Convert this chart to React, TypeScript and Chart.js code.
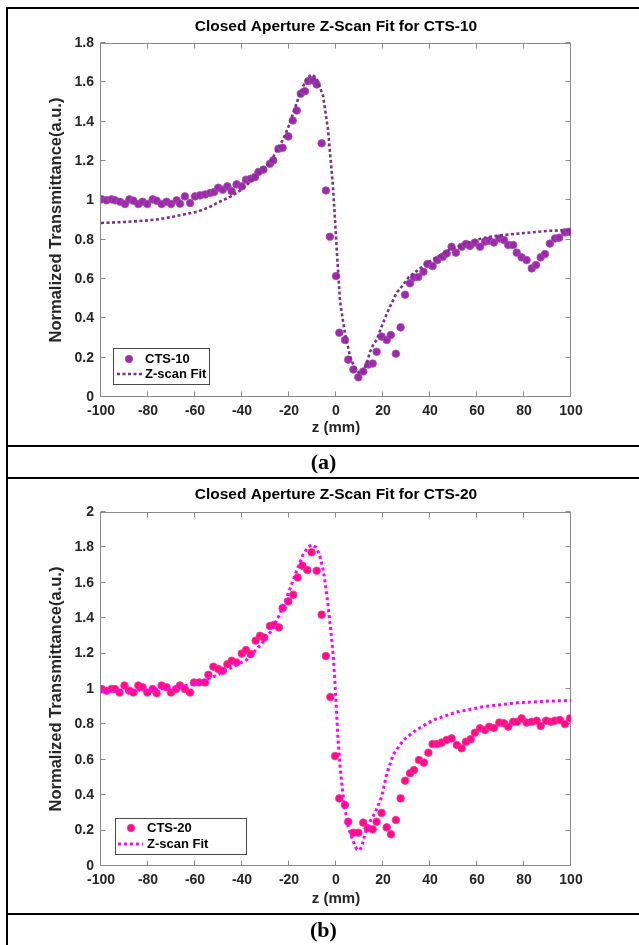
import React, { useEffect, useRef } from 'react';
import { Chart, registerables } from 'chart.js';

Chart.register(...registerables);

// ---------------- Data: panel (a) CTS-10 ----------------
const zA = [
  -99.7, -97.6, -95.5, -94.0, -91.9, -89.8, -87.9, -86.2, -84.1, -82.3,
  -80.3, -78.0, -76.3, -74.2, -72.1, -70.2, -67.8, -66.4, -64.3, -62.1,
  -60.0, -57.9, -55.7, -53.6, -51.9, -50.1, -48.2, -46.2, -44.4, -42.3,
  -40.1, -38.3, -36.3, -34.5, -33.0, -30.9, -28.1, -26.7, -24.5, -22.7,
  -20.3, -18.4, -16.7, -15.0, -13.2, -11.8, -9.9, -8.2, -6.1, -4.3,
  -2.6, 0.0, 1.4, 3.8, 5.2, 7.4, 9.5, 11.6, 13.8, 15.6,
  17.3, 19.4, 21.6, 23.3, 25.5, 27.5, 29.4, 31.5, 33.2, 35.0,
  37.2, 38.9, 41.1, 43.1, 45.4, 47.1, 49.2, 51.0, 53.5, 55.3,
  57.0, 59.1, 61.3, 63.4, 65.2, 67.2, 69.5, 71.5, 73.3, 75.4,
  76.9, 79.0, 81.1, 83.3, 85.1, 87.1, 88.9, 91.0, 93.2, 95.0,
  97.4, 99.3,
];
const tA = [
  1.005, 1.0, 1.005, 1.0, 0.993, 0.981, 1.005, 0.998, 0.981, 0.993,
  0.981, 1.005, 0.998, 0.981, 0.993, 0.981, 1.0, 0.983, 1.02, 0.986,
  1.02, 1.025, 1.03, 1.037, 1.042, 1.064, 1.054, 1.071, 1.047, 1.081,
  1.071, 1.105, 1.11, 1.118, 1.144, 1.156, 1.186, 1.203, 1.262, 1.267,
  1.325, 1.406, 1.457, 1.542, 1.555, 1.606, 1.61, 1.589, 1.29, 1.05,
  0.815, 0.615, 0.327, 0.29, 0.19, 0.14, 0.1, 0.13, 0.165, 0.17,
  0.23, 0.307, 0.29, 0.315, 0.22, 0.354, 0.52, 0.578, 0.608, 0.61,
  0.637, 0.676, 0.666, 0.696, 0.713, 0.73, 0.764, 0.734, 0.764, 0.778,
  0.768, 0.785, 0.764, 0.79, 0.795, 0.785, 0.806, 0.798, 0.773, 0.773,
  0.734, 0.71, 0.696, 0.654, 0.671, 0.71, 0.727, 0.78, 0.806, 0.81,
  0.837, 0.84,
];
const fitZA = [
  -100, -90, -80, -76, -70, -64, -59, -54, -50, -45,
  -40, -36, -32, -28, -25, -22.5, -20, -18.3, -16, -14,
  -12, -10.3, -8.5, -7, -5.5, -4.5, -3.4, -2.3, -1.3, -0.4,
  0.3, 1, 1.7, 2.8, 3.8, 5, 6, 7.5, 8.8, 10,
  11.5, 13, 14.5, 16, 17.3, 18.5, 20, 21.5, 23, 25.8,
  28.6, 31, 34.3, 37.5, 41.3, 45, 48.5, 52, 55.6, 60,
  65.5, 70, 76.9, 84, 91, 100,
];
const fitTA = [
  0.885, 0.89, 0.898, 0.903, 0.915, 0.93, 0.942, 0.965, 0.99, 1.018,
  1.055, 1.1, 1.15, 1.19, 1.26, 1.31, 1.38, 1.44, 1.52, 1.58,
  1.625, 1.64, 1.625, 1.58, 1.53, 1.45, 1.36, 1.21, 1.07, 0.9,
  0.75, 0.62, 0.49, 0.4, 0.325, 0.26, 0.205, 0.16, 0.137, 0.12,
  0.13, 0.17, 0.23, 0.27, 0.29, 0.33, 0.375, 0.42, 0.46, 0.53,
  0.57, 0.61, 0.64, 0.67, 0.7, 0.725, 0.75, 0.765, 0.78, 0.8,
  0.815, 0.822, 0.83, 0.838, 0.845, 0.85,
];

// ---------------- Data: panel (b) CTS-20 ----------------
const zB = [
  -99.7, -97.6, -95.5, -94.0, -92.1, -90.0, -87.9, -86.2, -84.1, -82.3,
  -80.3, -78.0, -76.3, -74.2, -72.1, -70.2, -68.0, -66.4, -64.3, -62.1,
  -60.4, -58.2, -55.7, -54.3, -52.2, -50.1, -48.2, -46.2, -44.4, -42.3,
  -40.1, -38.3, -36.3, -34.2, -32.3, -30.6, -28.1, -26.4, -24.3, -22.7,
  -20.3, -18.2, -16.3, -14.3, -12.2, -10.4, -8.2, -6.1, -4.3, -2.4,
  -0.4, 1.4, 3.8, 5.2, 7.4, 9.5, 11.6, 13.5, 15.6, 17.3,
  19.4, 21.6, 23.4, 25.5, 27.5, 29.4, 31.5, 33.2, 35.3, 37.4,
  39.3, 41.1, 43.1, 45.0, 47.1, 49.2, 51.4, 53.5, 55.3, 57.3,
  59.1, 61.3, 63.4, 65.2, 67.2, 69.5, 71.5, 73.3, 75.4, 77.1,
  79.0, 81.1, 83.3, 85.4, 87.1, 89.4, 91.4, 93.2, 95.3, 97.4,
  99.6,
];
const tB = [
  1.0, 0.99, 1.0, 1.0, 0.98, 1.02, 0.99, 0.98, 1.02, 1.01,
  0.98, 1.0, 0.976, 1.02, 1.01, 0.98, 1.0, 1.02, 1.0, 0.98,
  1.037, 1.037, 1.037, 1.08, 1.126, 1.113, 1.103, 1.14, 1.16, 1.15,
  1.2, 1.22, 1.197, 1.273, 1.3, 1.29, 1.356, 1.362, 1.348, 1.457,
  1.495, 1.532, 1.63, 1.697, 1.672, 1.772, 1.668, 1.42, 1.186, 0.955,
  0.621, 0.382, 0.345, 0.25, 0.188, 0.188, 0.245, 0.213, 0.207, 0.25,
  0.3, 0.218, 0.179, 0.26, 0.382, 0.482, 0.524, 0.542, 0.599, 0.584,
  0.64, 0.689, 0.689, 0.697, 0.712, 0.721, 0.684, 0.665, 0.702, 0.716,
  0.753, 0.778, 0.768, 0.787, 0.78, 0.81, 0.806, 0.787, 0.815, 0.815,
  0.834, 0.81, 0.815, 0.821, 0.791, 0.821, 0.815, 0.821, 0.825, 0.802,
  0.834,
];
const fitZB = [
  -100, -90, -80, -70, -60, -52, -44, -38, -32, -28,
  -24, -20, -17, -14, -12, -10.3, -8.5, -7, -5.4, -4.3,
  -3.3, -2.2, -1.1, -0.3, 0.3, 0.9, 2, 3.4, 5.2, 7.4,
  8.8, 10, 11, 12.3, 14, 16.6, 19.4, 21.6, 24.4, 28.6,
  34.3, 41.4, 51.4, 62.7, 76.9, 91, 100,
];
const fitTB = [
  0.985, 0.99, 0.995, 1.005, 1.03, 1.07, 1.125, 1.165, 1.25, 1.32,
  1.42, 1.55, 1.66, 1.76, 1.8, 1.815, 1.8, 1.76, 1.67, 1.57,
  1.465, 1.33, 1.18, 1.0, 0.85, 0.71, 0.52, 0.355, 0.22, 0.137,
  0.095, 0.09, 0.11, 0.18, 0.24, 0.3, 0.39, 0.52, 0.63, 0.71,
  0.77, 0.825, 0.87, 0.9, 0.922, 0.932, 0.935,
];

const xTickValues = [-100, -80, -60, -40, -20, 0, 20, 40, 60, 80, 100];

const FONT = '"Liberation Sans", Arial, Helvetica, sans-serif';
const AXIS_COLOR = '#8a8a8a';
const TEXT_COLOR = '#262626';

type PanelCfg = {
  key: string;
  title: string;
  seriesLabel: string;
  z: number[];
  t: number[];
  fz: number[];
  ft: number[];
  yMax: number;
  markerColor: string;
  markerEdge: string;
  fitColor: string;
  fitWidth: number;
  fitDash: number[];
  height: number;
  padTop: number;
  padBottom: number;
  titleY: number;
  xLabelY: number;
  legend: { x: number; y: number; w: number; h: number; mx: number; tx: number; r1: number; r2: number; lx1: number; lx2: number };
};

function makePlugin(cfg: PanelCfg) {
  return {
    id: 'matlabAxes' + cfg.key,
    beforeDatasetsDraw(chart: any) {
      const { ctx, chartArea: a, scales } = chart;
      const xs = scales.x;
      const ys = scales.y;
      ctx.save();
      ctx.strokeStyle = AXIS_COLOR;
      ctx.lineWidth = 1;
      const L = Math.round(a.left) - 0.5;
      const R = Math.round(a.right) - 0.5;
      const T = Math.round(a.top) + 0.5;
      const B = Math.round(a.bottom) - 0.5;
      ctx.strokeRect(L, T, R - L, B - T);
      const tl = 5;
      ctx.beginPath();
      for (const v of xTickValues) {
        const px = Math.round(xs.getPixelForValue(v)) - 0.5;
        ctx.moveTo(px, B);
        ctx.lineTo(px, B - tl);
        ctx.moveTo(px, T);
        ctx.lineTo(px, T + tl);
      }
      const steps = Math.round(cfg.yMax / 0.2);
      for (let i = 0; i <= steps; i++) {
        const py = Math.round(ys.getPixelForValue(i * 0.2)) - 0.5;
        ctx.moveTo(L, py);
        ctx.lineTo(L + tl, py);
        ctx.moveTo(R, py);
        ctx.lineTo(R - tl, py);
      }
      ctx.stroke();
      ctx.restore();
    },
    afterDraw(chart: any) {
      const { ctx, chartArea: a } = chart;
      ctx.save();
      const cx = (a.left + a.right) / 2;
      // title
      ctx.fillStyle = '#000';
      ctx.font = `bold 15.5px ${FONT}`;
      ctx.textAlign = 'center';
      ctx.textBaseline = 'middle';
      ctx.fillText(cfg.title, cx, cfg.titleY);
      // x label
      ctx.fillStyle = TEXT_COLOR;
      ctx.font = `bold 15px ${FONT}`;
      ctx.fillText('z (mm)', cx, cfg.xLabelY);
      // y label
      ctx.save();
      ctx.font = `bold 16.5px ${FONT}`;
      ctx.translate(56, (a.top + a.bottom) / 2);
      ctx.rotate(-Math.PI / 2);
      ctx.fillText('Normalized Transmittance(a.u.)', 0, 0);
      ctx.restore();
      // legend
      const lg = cfg.legend;
      ctx.fillStyle = '#fff';
      ctx.fillRect(lg.x, lg.y, lg.w, lg.h);
      ctx.strokeStyle = '#4a4a4a';
      ctx.lineWidth = 1;
      ctx.strokeRect(lg.x + 0.5, lg.y + 0.5, lg.w, lg.h);
      ctx.beginPath();
      ctx.arc(lg.mx, lg.r1, 3.7, 0, Math.PI * 2);
      ctx.fillStyle = cfg.markerColor;
      ctx.fill();
      ctx.strokeStyle = cfg.markerEdge;
      ctx.lineWidth = 0.8;
      ctx.stroke();
      ctx.beginPath();
      ctx.setLineDash(cfg.fitDash);
      ctx.strokeStyle = cfg.fitColor;
      ctx.lineWidth = cfg.fitWidth;
      ctx.moveTo(lg.lx1, lg.r2);
      ctx.lineTo(lg.lx2, lg.r2);
      ctx.stroke();
      ctx.setLineDash([]);
      ctx.fillStyle = '#000';
      ctx.font = `bold 13px ${FONT}`;
      ctx.textAlign = 'left';
      ctx.textBaseline = 'middle';
      ctx.fillText(cfg.seriesLabel, lg.tx, lg.r1);
      ctx.fillText('Z-scan Fit', lg.tx, lg.r2);
      ctx.restore();
    },
  };
}

function Panel({ cfg, top }: { cfg: PanelCfg; top: number }) {
  const ref = useRef<HTMLCanvasElement | null>(null);
  useEffect(() => {
    if (!ref.current) return;
    const pts = cfg.z.map((x, i) => ({ x, y: cfg.t[i] }));
    const fpts = cfg.fz.map((x, i) => ({ x, y: cfg.ft[i] }));
    const chart = new Chart(ref.current, {
      type: 'scatter',
      data: {
        datasets: [
          {
            label: 'Z-scan Fit',
            data: fpts,
            showLine: true,
            borderColor: cfg.fitColor,
            backgroundColor: cfg.fitColor,
            borderWidth: cfg.fitWidth,
            borderDash: cfg.fitDash,
            borderCapStyle: 'butt',
            pointRadius: 0,
            fill: false,
            tension: 0,
          } as any,
          {
            label: cfg.seriesLabel,
            data: pts,
            showLine: false,
            pointRadius: 3.8,
            pointBackgroundColor: cfg.markerColor,
            pointBorderColor: cfg.markerEdge,
            pointBorderWidth: 0.8,
          } as any,
        ],
      },
      options: {
        responsive: false,
        maintainAspectRatio: false,
        animation: false,
        devicePixelRatio: 1,
        events: [],
        layout: { padding: { left: 61, right: 68, top: cfg.padTop, bottom: cfg.padBottom } },
        plugins: { legend: { display: false }, tooltip: { enabled: false }, title: { display: false } },
        scales: {
          x: {
            type: 'linear',
            min: -100,
            max: 100,
            afterFit: (s: any) => { s.height = 30; },
            afterBuildTicks: (s: any) => { s.ticks = xTickValues.map((v) => ({ value: v })); },
            ticks: {
              stepSize: 20,
              autoSkip: false,
              maxRotation: 0,
              padding: 6,
              color: TEXT_COLOR,
              font: { family: FONT, size: 14, weight: 'bold' },
            },
            grid: { display: false, drawTicks: false },
            border: { display: false },
          },
          y: {
            type: 'linear',
            min: 0,
            max: cfg.yMax,
            afterFit: (s: any) => { s.width = 40; },
            ticks: {
              stepSize: 0.2,
              padding: 7,
              color: TEXT_COLOR,
              font: { family: FONT, size: 14, weight: 'bold' },
              callback: (v: any) => String(Math.round(Number(v) * 10) / 10),
            },
            grid: { display: false, drawTicks: false },
            border: { display: false },
          },
        },
      } as any,
      plugins: [makePlugin(cfg) as any],
    });
    return () => chart.destroy();
  }, [cfg]);
  return (
    <canvas
      ref={ref}
      width={639}
      height={cfg.height}
      style={{ position: 'absolute', left: 0, top, width: 639, height: cfg.height }}
    />
  );
}

const cfgA: PanelCfg = {
  key: 'a',
  title: 'Closed Aperture Z-Scan Fit for CTS-10',
  seriesLabel: 'CTS-10',
  z: zA,
  t: tA,
  fz: fitZA,
  ft: fitTA,
  yMax: 1.8,
  markerColor: '#9a2ca8',
  markerEdge: '#a84cb6',
  fitColor: '#7e2f8e',
  fitWidth: 2.6,
  fitDash: [3, 2.5],
  height: 445,
  padTop: 43,
  padBottom: 18,
  titleY: 27,
  xLabelY: 428,
  legend: { x: 113, y: 348, w: 96, h: 36, mx: 129, tx: 145, r1: 359, r2: 374, lx1: 117, lx2: 143 },
};

const cfgB: PanelCfg = {
  key: 'b',
  title: 'Closed Aperture Z-Scan Fit for CTS-20',
  seriesLabel: 'CTS-20',
  z: zB,
  t: tB,
  fz: fitZB,
  ft: fitTB,
  yMax: 2,
  markerColor: '#ff0d86',
  markerEdge: '#ff3399',
  fitColor: '#ff00ff',
  fitWidth: 3,
  fitDash: [3, 3],
  height: 434,
  padTop: 33,
  padBottom: 17,
  titleY: 16,
  xLabelY: 420,
  legend: { x: 115, y: 339, w: 131, h: 36, mx: 131, tx: 147, r1: 349, r2: 365, lx1: 118, lx2: 143 },
};

const line = (style: React.CSSProperties): React.CSSProperties => ({
  position: 'absolute',
  background: '#000',
  ...style,
});

const captionStyle = (top: number): React.CSSProperties => ({
  position: 'absolute', left: 8, top, width: 631, height: 30, lineHeight: '30px',
  textAlign: 'center', fontFamily: '"Liberation Serif", "Times New Roman", serif',
  fontWeight: 'bold', fontSize: 22, color: '#000',
});

export default function App() {
  return (
    <div style={{ position: 'absolute', left: 0, top: 0, width: 639, height: 945, background: '#fff', overflow: 'hidden' }}>
      <Panel cfg={cfgA} top={0} />
      <Panel cfg={cfgB} top={479} />
      <div style={line({ left: 6, top: 7, width: 633, height: 2 })} />
      <div style={line({ left: 6, top: 7, width: 2, height: 938 })} />
      <div style={line({ left: 6, top: 445, width: 633, height: 2 })} />
      <div style={line({ left: 6, top: 477, width: 633, height: 2 })} />
      <div style={line({ left: 6, top: 913, width: 633, height: 2 })} />
      <div style={captionStyle(447)}>(a)</div>
      <div style={captionStyle(915)}>(b)</div>
    </div>
  );
}
